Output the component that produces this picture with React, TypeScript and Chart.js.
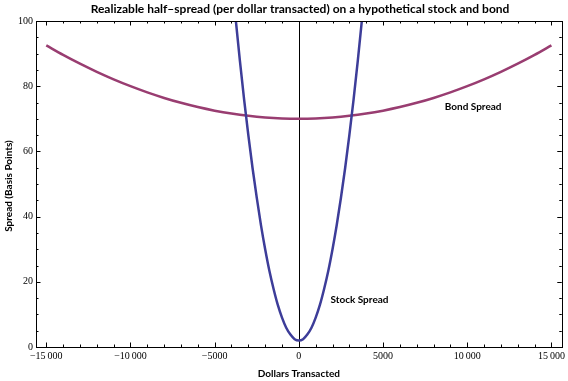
import React, { useEffect, useRef } from "react";
import { Chart, registerables } from "chart.js";

Chart.register(...registerables);

// ---- data ----
const stockX = [-3800, -3500, -3250, -3000, -2750, -2500, -2250, -2000, -1750, -1500, -1250, -1000, -750, -500, -250, 0, 250, 500, 750, 1000, 1250, 1500, 1750, 2000, 2250, 2500, 2750, 3000, 3250, 3500, 3800];
const stockY = [103.1, 87.8, 75.9, 65, 54.9, 45.8, 37.4, 30, 23.4, 17.8, 12.9, 9, 5.9, 3.8, 2.4, 2, 2.4, 3.8, 5.9, 9, 12.9, 17.8, 23.4, 30, 37.4, 45.8, 54.9, 65, 75.9, 87.8, 103.1];

const bondX = [-15000, -14000, -13000, -12000, -11000, -10000, -9000, -8000, -7000, -6000, -5000, -4000, -3000, -2000, -1000, 0, 1000, 2000, 3000, 4000, 5000, 6000, 7000, 8000, 9000, 10000, 11000, 12000, 13000, 14000, 15000];
const bondY = [92.5, 89.6, 86.9, 84.4, 82.1, 80, 78.1, 76.4, 74.9, 73.6, 72.5, 71.6, 70.9, 70.4, 70.1, 70, 70.1, 70.4, 70.9, 71.6, 72.5, 73.6, 74.9, 76.4, 78.1, 80, 82.1, 84.4, 86.9, 89.6, 92.5];

const xTickValues = [-15000, -10000, -5000, 0, 5000, 10000, 15000];
const xTickLabels = ["\u221215\u2009000", "\u221210\u2009000", "\u22125000", "0", "5000", "10\u2009000", "15\u2009000"];
const yTickValues = [0, 20, 40, 60, 80, 100];
const yTickLabels = ["0", "20", "40", "60", "80", "100"];

const curveLabels = ["Bond Spread", "Stock Spread"];
const curveLabelX = [10350, 3600];
const curveLabelY = [73.7, 14.4];

const titleText = "Realizable half\u2013spread (per dollar transacted) on a hypothetical stock and bond";
const xTitle = "Dollars Transacted";
const yTitle = "Spread (Basis Points)";

const X_MIN = -15610;
const X_MAX = 15615;
const X_MINOR = 1000;
const Y_MINOR = 5;

const SANS = "Lato, 'Open Sans', sans-serif";
const SERIF = "'Liberation Serif', 'DejaVu Serif', serif";

const framePlugin = {
  id: "framePlugin",
  beforeDatasetsDraw(chart: any) {
    const { ctx, chartArea, scales } = chart;
    const x0 = scales.x.getPixelForValue(0);
    ctx.save();
    ctx.strokeStyle = "#000";
    ctx.lineWidth = 1;
    ctx.beginPath();
    ctx.moveTo(Math.round(x0) + 0.5, chartArea.top);
    ctx.lineTo(Math.round(x0) + 0.5, chartArea.bottom);
    ctx.stroke();
    ctx.restore();
  },
  afterDraw(chart: any) {
    const { ctx, chartArea, scales } = chart;
    const { left, right, top, bottom } = chartArea;
    ctx.save();
    ctx.strokeStyle = "#000";
    ctx.lineWidth = 1;
    ctx.strokeRect(Math.round(left) + 0.5, Math.round(top) + 0.5, Math.round(right - left), Math.round(bottom - top));
    ctx.beginPath();
    for (let v = -15000; v <= 15000; v += X_MINOR) {
      const px = Math.round(scales.x.getPixelForValue(v)) + 0.5;
      const len = v % 5000 === 0 ? 4.5 : 2.5;
      ctx.moveTo(px, bottom);
      ctx.lineTo(px, bottom - len);
      ctx.moveTo(px, top);
      ctx.lineTo(px, top + len);
    }
    for (let v = 0; v <= 100; v += Y_MINOR) {
      const py = Math.round(scales.y.getPixelForValue(v)) + 0.5;
      const len = v % 20 === 0 ? 4.5 : 2.5;
      ctx.moveTo(left, py);
      ctx.lineTo(left + len, py);
      ctx.moveTo(right, py);
      ctx.lineTo(right - len, py);
    }
    ctx.stroke();

    // curve labels
    ctx.fillStyle = "#000";
    ctx.font = `bold 10px ${SANS}`;
    ctx.textAlign = "center";
    ctx.textBaseline = "middle";
    curveLabels.forEach((t, i) => {
      ctx.fillText(t, scales.x.getPixelForValue(curveLabelX[i]), scales.y.getPixelForValue(curveLabelY[i]));
    });

    // title
    ctx.font = `bold 12px ${SANS}`;
    ctx.fillText(titleText, 300, 9);

    // axis titles
    ctx.font = `bold 10px ${SANS}`;
    ctx.fillText(xTitle, scales.x.getPixelForValue(0), 374);
    ctx.save();
    ctx.translate(9, (top + bottom) / 2 + 2);
    ctx.rotate(-Math.PI / 2);
    ctx.fillText(yTitle, 0, 0);
    ctx.restore();
    ctx.restore();
  },
};

export default function App() {
  const ref = useRef<HTMLCanvasElement | null>(null);
  useEffect(() => {
    document.body.style.margin = "0";
    const canvas = ref.current;
    if (!canvas) return;
    const chart = new Chart(canvas, {
      type: "scatter",
      data: {
        datasets: [
          {
            label: "Stock Spread",
            data: stockX.map((x, i) => ({ x, y: stockY[i] })),
            showLine: true,
            borderColor: "rgb(61,61,153)",
            borderWidth: 2.5,
            pointRadius: 0,
            cubicInterpolationMode: "monotone",
          },
          {
            label: "Bond Spread",
            data: bondX.map((x, i) => ({ x, y: bondY[i] })),
            showLine: true,
            borderColor: "rgb(153,61,113)",
            borderWidth: 2.5,
            pointRadius: 0,
            cubicInterpolationMode: "monotone",
          },
        ],
      },
      options: {
        responsive: false,
        animation: false,
        layout: { padding: { top: 21, right: 4, left: 0, bottom: 0 } },
        plugins: { legend: { display: false }, title: { display: false }, tooltip: { enabled: false } },
        scales: {
          x: {
            type: "linear",
            min: X_MIN,
            max: X_MAX,
            grid: { display: false, drawTicks: false },
            border: { display: false },
            afterBuildTicks: (s: any) => {
              s.ticks = xTickValues.map((v) => ({ value: v }));
            },
            afterFit: (s: any) => {
              s.height = 34;
            },
            ticks: {
              padding: 3,
              maxRotation: 0,
              autoSkip: false,
              color: "#000",
              font: { family: SERIF, size: 10 },
              callback: (v: any) => {
                const i = xTickValues.indexOf(Number(v));
                return i >= 0 ? xTickLabels[i] : "";
              },
            },
          },
          y: {
            type: "linear",
            min: 0,
            max: 100,
            grid: { display: false, drawTicks: false },
            border: { display: false },
            afterBuildTicks: (s: any) => {
              s.ticks = yTickValues.map((v) => ({ value: v }));
            },
            afterFit: (s: any) => {
              s.width = 36;
            },
            ticks: {
              padding: 3,
              color: "#000",
              font: { family: SERIF, size: 10 },
              callback: (v: any) => {
                const i = yTickValues.indexOf(Number(v));
                return i >= 0 ? yTickLabels[i] : "";
              },
            },
          },
        },
      },
      plugins: [framePlugin],
    });
    return () => chart.destroy();
  }, []);
  return (
    <div style={{ width: 568, height: 381, background: "#fff" }}>
      <canvas ref={ref} width={568} height={381} style={{ display: "block" }} />
    </div>
  );
}
